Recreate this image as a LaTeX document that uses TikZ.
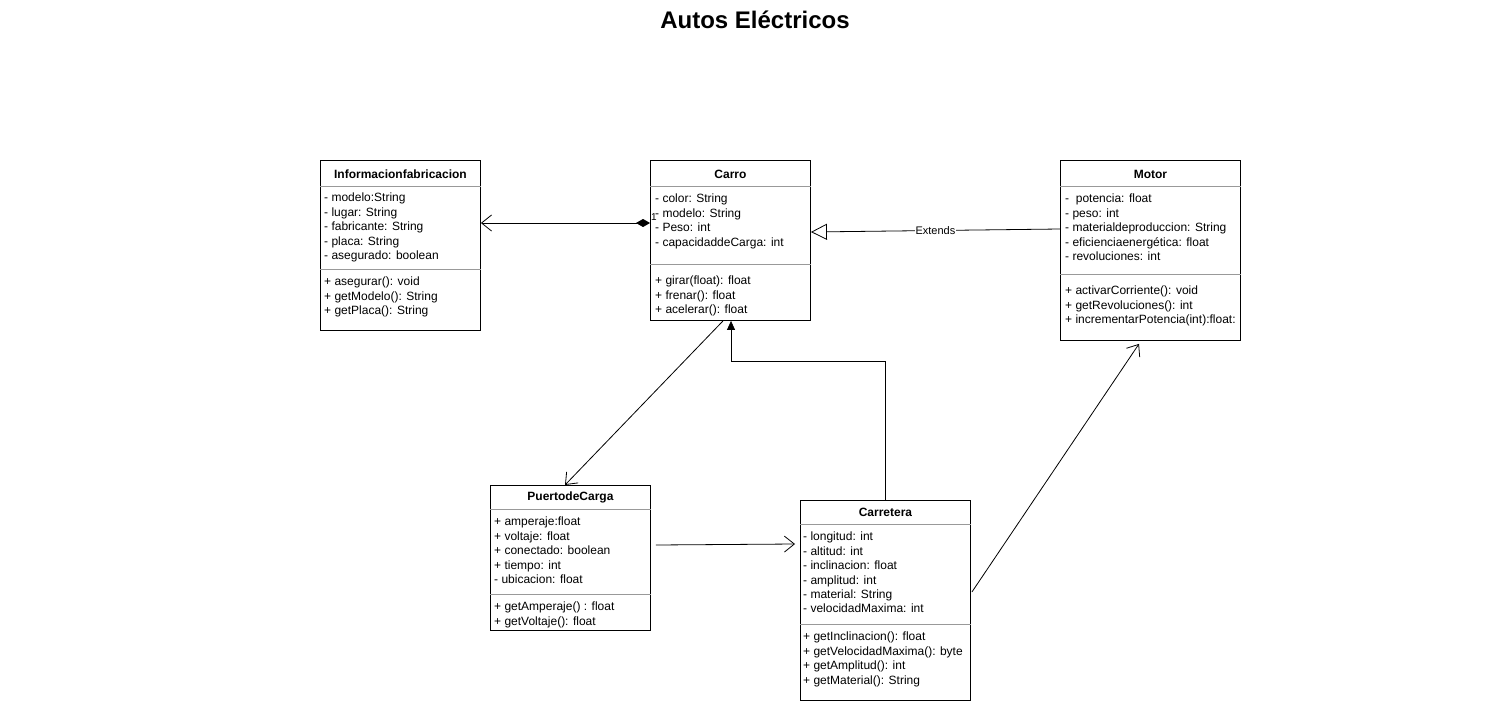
\documentclass[tikz,border=0pt]{standalone}
\usepackage{fontspec}
\setmainfont{Liberation Sans}
\usetikzlibrary{positioning, calc}
\usetikzlibrary{arrows.meta}
\tikzstyle{classbox}=[rectangle,draw=black,line width=0.9pt,anchor=north west,inner sep=0pt]
\tikzstyle{headtext}=[font=\fontsize{12}{14}\selectfont\bfseries]
\tikzstyle{membertext}=[anchor=north west,align=left,inner sep=0pt,
font=\fontsize{12}{14.4}\selectfont]
\tikzstyle{divline}=[draw=black!40,line width=0.8pt]
\tikzstyle{openpath}=[-{Straight Barb[length=10pt,width=16pt]},line width=0.8pt]
\tikzstyle{extpath}=[-{Triangle[open,length=16pt,width=16pt,fill=white]},line width=0.8pt]
\tikzstyle{aggpath}=[{Diamond[length=14pt,width=8pt]}-{Straight Barb[length=10pt,width=16pt]},line width=0.8pt]
\tikzstyle{solidpath}=[-{Triangle[length=9pt,width=8pt]},line width=0.8pt]

\begin{document}
\begin{tikzpicture}[x=1pt, y=-1pt]
    \useasboundingbox (0,0) rectangle (1511,701);
    \node[font=\fontsize{24}{28}\selectfont\bfseries] (title) at (755,20) {Autos Eléctricos};

    % clases
    \node[classbox, minimum width=160pt, minimum height=170pt] (info) at (320,160) {};
    \node[classbox, minimum width=160pt, minimum height=160pt] (carro) at (650,160) {};
    \node[classbox, minimum width=180pt, minimum height=180pt] (motor) at (1060,160) {};
    \node[classbox, minimum width=160pt, minimum height=145pt] (puerto) at (490,485) {};
    \node[classbox, minimum width=170pt, minimum height=200pt] (carretera) at (800,500) {};

    % Informacionfabricacion
    \node[headtext] at ($(info.north)+(0,14)$) {Informacionfabricacion};
    \draw[divline] ($(info.north west)+(0,26)$) -- ($(info.north east)+(0,26)$);
    \draw[divline] ($(info.north west)+(0,109)$) -- ($(info.north east)+(0,109)$);
    \node[membertext] at ($(info.north west)+(4,33)$) {- modelo:String\\- lugar: String\\- fabricante: String\\- placa: String\\- asegurado: boolean};
    \node[membertext] at ($(info.north west)+(4,117)$) {+ asegurar(): void\\+ getModelo(): String\\+ getPlaca(): String};

    % Carro
    \node[headtext] at ($(carro.north)+(0,14)$) {Carro};
    \draw[divline] ($(carro.north west)+(0,26)$) -- ($(carro.north east)+(0,26)$);
    \draw[divline] ($(carro.north west)+(0,104)$) -- ($(carro.north east)+(0,104)$);
    \node[membertext] at ($(carro.north west)+(5,34)$) {- color: String\\- modelo: String\\- Peso: int\\- capacidaddeCarga: int};
    \node[membertext] at ($(carro.north west)+(5,116)$) {+ girar(float): float\\+ frenar(): float\\+ acelerar(): float};

    % Motor
    \node[headtext] at ($(motor.north)+(0,14)$) {Motor};
    \draw[divline] ($(motor.north west)+(0,26)$) -- ($(motor.north east)+(0,26)$);
    \draw[divline] ($(motor.north west)+(0,114)$) -- ($(motor.north east)+(0,114)$);
    \node[membertext] at ($(motor.north west)+(5,34)$) {-\ \ potencia: float\\- peso: int\\- materialdeproduccion: String\\- eficienciaenergética: float\\- revoluciones: int};
    \node[membertext] at ($(motor.north west)+(5,126)$) {+ activarCorriente(): void\\+ getRevoluciones(): int\\+ incrementarPotencia(int):float:};

    % PuertodeCarga
    \node[headtext] at ($(puerto.north)+(0,12)$) {PuertodeCarga};
    \draw[divline] ($(puerto.north west)+(0,24)$) -- ($(puerto.north east)+(0,24)$);
    \draw[divline] ($(puerto.north west)+(0,109)$) -- ($(puerto.north east)+(0,109)$);
    \node[membertext] at ($(puerto.north west)+(4,32)$) {+ amperaje:float\\+ voltaje: float\\+ conectado: boolean\\+ tiempo: int\\- ubicacion: float};
    \node[membertext] at ($(puerto.north west)+(4,117)$) {+ getAmperaje() : float\\+ getVoltaje(): float};

    % Carretera
    \node[headtext] at ($(carretera.north)+(0,12)$) {Carretera};
    \draw[divline] ($(carretera.north west)+(0,24)$) -- ($(carretera.north east)+(0,24)$);
    \draw[divline] ($(carretera.north west)+(0,124)$) -- ($(carretera.north east)+(0,124)$);
    \node[membertext] at ($(carretera.north west)+(3,32)$) {- longitud: int\\- altitud: int\\- inclinacion: float\\- amplitud: int\\- material: String\\- velocidadMaxima: int};
    \node[membertext] at ($(carretera.north west)+(3,132)$) {+ getInclinacion(): float\\+ getVelocidadMaxima(): byte\\+ getAmplitud(): int\\+ getMaterial(): String};

    % relaciones
    \coordinate (agg) at ($(carro.north west)+(0,63)$);
    \draw[aggpath] (agg) -- (agg -| info.east);
    \node[font=\fontsize{10}{11}\selectfont, inner sep=0pt] (one) at ($(agg)+(4,-6)$) {1};

    \draw[extpath] ($(motor.north west)+(0,69)$) -- node[fill=white, inner sep=1pt, font=\fontsize{11}{13}\selectfont] (ext) {Extends} ($(carro.north east)+(0,72)$);

    \draw[openpath] ($(carro.south west)+(73,0)$) -- ($(puerto.north west)+(75,0)$);

    \coordinate (bend) at ($(carro.south west)+(81,40)$);
    \draw[solidpath] (carretera.north) |- (bend) -- (bend |- carro.south);

    \draw[openpath] ($(puerto.north east)+(5,60)$) -- ($(carretera.north west)+(-5,44)$);

    \draw[openpath] ($(carretera.north east)+(1,92)$) -- ($(motor.south west)+(79,3)$);
\end{tikzpicture}
\end{document}
